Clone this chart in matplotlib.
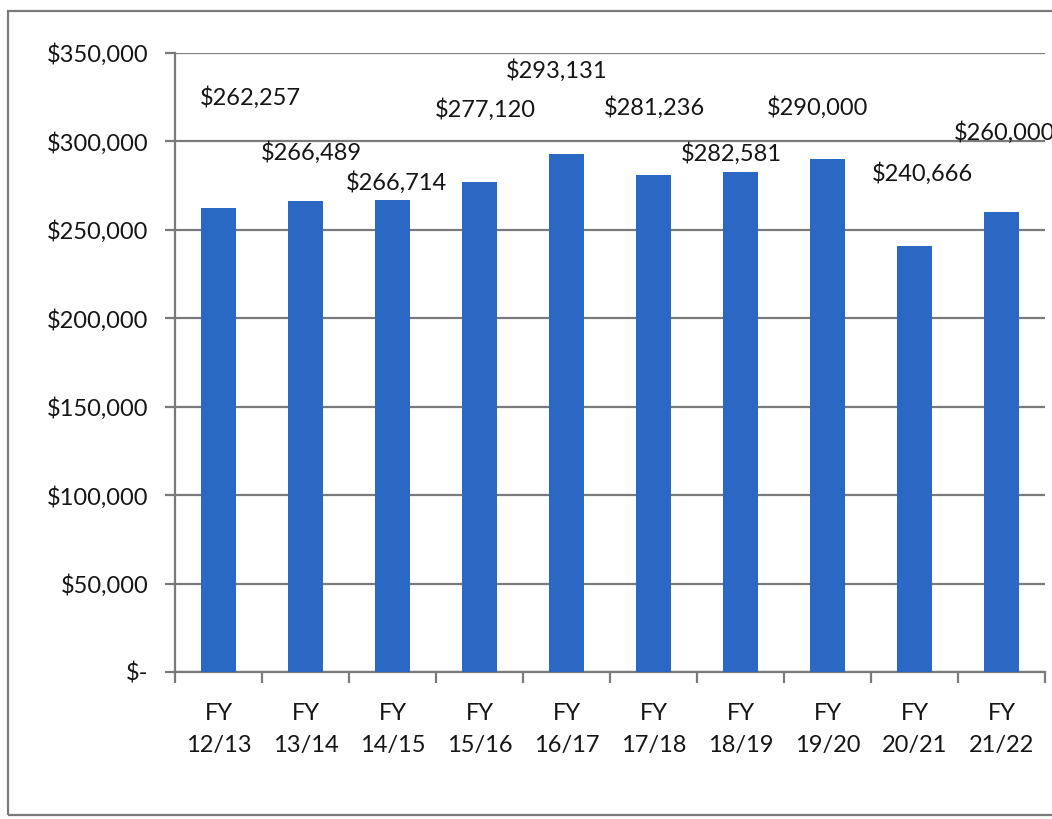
import matplotlib
matplotlib.use("Agg")
import matplotlib.pyplot as plt
from matplotlib.patches import Rectangle
from matplotlib.ticker import FuncFormatter, MultipleLocator

# fiscal-year totals
years = ["FY\n12/13", "FY\n13/14", "FY\n14/15", "FY\n15/16", "FY\n16/17",
         "FY\n17/18", "FY\n18/19", "FY\n19/20", "FY\n20/21", "FY\n21/22"]
totals = [262257, 266489, 266714, 277120, 293131, 281236, 282581, 290000, 240666, 260000]

# where each value label sits (category offset, height in dollars)
label_x = [0.36, 1.07, 2.04, 3.07, 3.89, 5.01, 5.89, 6.88, 8.09, 9.03]
label_y = [325000, 294000, 277000, 318000, 340000, 319000, 293000, 319000, 282000, 305000]

plt.rcParams["font.family"] = ["Lato", "DejaVu Sans"]
GREY = "#7a7a7a"
BLUE = "#2b68c3"
INK = "#151515"
FS = 17

fig = plt.figure(figsize=(10.52, 8.19), dpi=100)
ax = fig.add_axes([0.1664, 0.1795, 0.8270, 0.7558])

xs = range(len(years))
ax.bar(xs, totals, width=0.4, color=BLUE, zorder=3)

for x, y, v in zip(label_x, label_y, totals):
    ax.text(x, y, f"${v:,}", ha="center", va="center", fontsize=FS,
            color=INK, zorder=4, clip_on=False)

ax.set_xlim(-0.5, len(years) - 0.5)
ax.set_ylim(0, 350000)
ax.yaxis.set_major_locator(MultipleLocator(50000))
ax.yaxis.set_major_formatter(FuncFormatter(lambda v, _: "$-" if v == 0 else f"${v:,.0f}"))
ax.grid(axis="y", color=GREY, linewidth=1.6, zorder=1)

ax.set_xticks(list(xs))
ax.set_xticklabels(years, fontsize=FS, color=INK, linespacing=1.7)
ax.set_xticks([i + 0.5 for i in range(-1, len(years))], minor=True)
ax.tick_params(axis="x", which="major", length=0, pad=22)
ax.tick_params(axis="x", which="minor", length=8, width=1.6, color=GREY, direction="out")
ax.tick_params(axis="y", length=7, width=1.6, color=GREY, pad=12, labelsize=FS,
               labelcolor=INK)

for side in ("top", "right"):
    ax.spines[side].set_visible(False)
for side in ("left", "bottom"):
    ax.spines[side].set_color(GREY)
    ax.spines[side].set_linewidth(1.6)

# outer chart border, runs off the right edge
fig.patches.append(Rectangle((8 / 1052, 4 / 819), 1.1, 804 / 819, transform=fig.transFigure,
                             fill=False, edgecolor=GREY, linewidth=1.6))

fig.savefig("out.png", dpi=100)
